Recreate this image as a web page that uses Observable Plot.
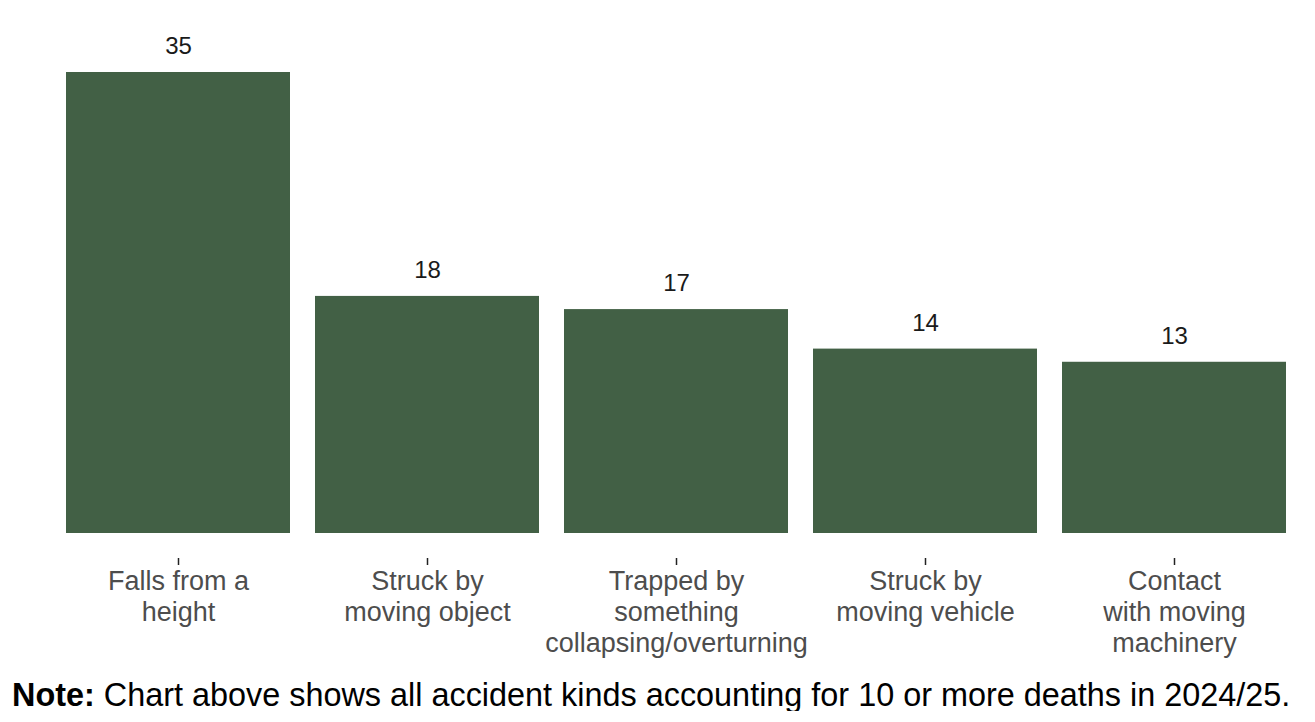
<!DOCTYPE html>
<html>
<head>
<meta charset="utf-8">
<script src="https://cdn.jsdelivr.net/npm/d3@7"></script>
<script src="https://cdn.jsdelivr.net/npm/@observablehq/plot@0.6"></script>
<style>
  html, body { margin: 0; padding: 0; background: #fff; }
  body { width: 1315px; font-family: "Liberation Sans", Arial, sans-serif; }
  #chart svg { display: block; }
  #note { font-size: 32.4px; color: #000; margin: 0; padding-left: 12px; line-height: 1; margin-top: 14px; white-space: nowrap; }
</style>
</head>
<body>
<div id="chart"></div>
<p id="note"><b>Note:</b> Chart above shows all accident kinds accounting for 10 or more deaths in 2024/25.</p>
<script>
const categories = [
  "Falls from a\nheight",
  "Struck by\nmoving object",
  "Trapped by\nsomething\ncollapsing/overturning",
  "Struck by\nmoving vehicle",
  "Contact\nwith moving\nmachinery"
];
const deaths = [35, 18, 17, 14, 13];

const data = categories.map((c, i) => ({category: c, deaths: deaths[i]}));

const chart = Plot.plot({
  width: 1315,
  height: 665,
  marginTop: 72,
  marginBottom: 132,
  marginLeft: 54,
  marginRight: 16,
  style: {fontFamily: "'Liberation Sans', Arial, sans-serif", background: "#fff"},
  x: {domain: categories, paddingInner: 0.1, paddingOuter: 0.05, label: null},
  y: {domain: [0, 35], axis: null},
  marks: [
    Plot.barY(data, {x: "category", y: "deaths", fill: "#426045"}),
    Plot.text(data, {x: "category", y: "deaths", text: d => String(d.deaths), dy: -26, fontSize: 24, fill: "#1a1a1a"}),
    Plot.axisX({tickSize: 7, dy: 25, tickPadding: 2, fontSize: 27, lineHeight: 1.15, color: "#4d4d4d", stroke: "#222", strokeWidth: 1.5, label: null})
  ]
});
document.getElementById("chart").appendChild(chart);
</script>
</body>
</html>
